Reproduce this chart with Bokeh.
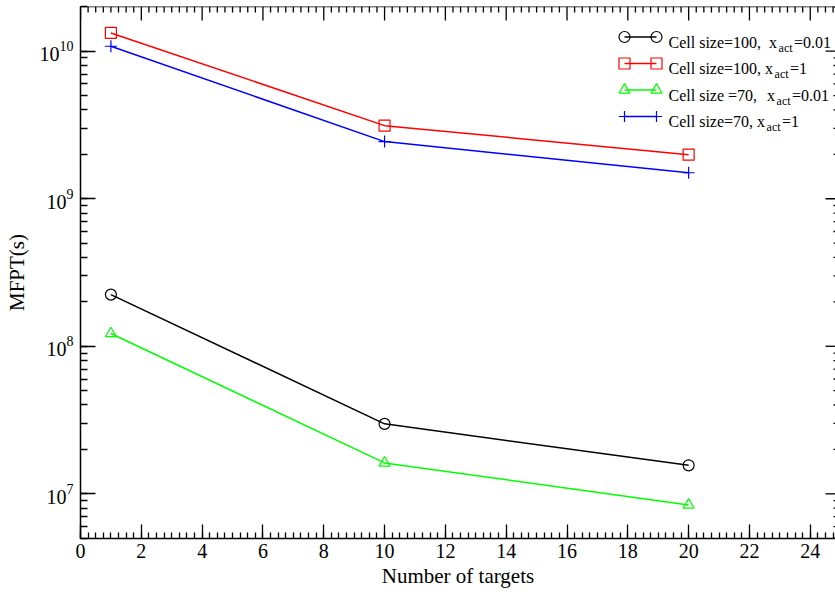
import numpy as np
from bokeh.plotting import figure
from bokeh.models import (Range1d, SingleIntervalTicker, LinearScale, ColumnDataSource)
from bokeh.core.properties import value
from bokeh.embed import file_html
from bokeh.resources import INLINE

# ---------------- data ----------------
targets = [1, 10, 20]
mfpt_cell100_x001 = [2.24e8, 2.98e7, 1.56e7]
mfpt_cell100_x1 = [1.33e10, 3.13e9, 1.99e9]
mfpt_cell70_x001 = [1.22e8, 1.62e7, 8.4e6]
mfpt_cell70_x1 = [1.08e10, 2.44e9, 1.50e9]

series_values = [mfpt_cell100_x001, mfpt_cell100_x1, mfpt_cell70_x001, mfpt_cell70_x1]
series_colors = ["black", "#ff0000", "#00ff00", "#0000ff"]
series_markers = ["circle", "square", "triangle", "cross"]
label_prefix = ["Cell size=100,", "Cell size=100,", "Cell size =70,", "Cell size=70,"]
label_gap_spaces = [2, 1, 2.5, 1]
label_sub = ["act", "act", "act", "act"]
label_suffix = ["=0.01", "=1", "=0.01", "=1"]

x_label = "Number of targets"
y_label = "MFPT(s)"

FONT = "Liberation Serif"
LEFT, TOP = 80, 6
FW, FH = 755, 532          # frame size in px
X_END = 24.83
Y_LO, Y_HI = 4.98e6, 2.009e10

p = figure(frame_width=FW, frame_height=FH,
           x_range=Range1d(0, X_END), y_range=Range1d(Y_LO, Y_HI),
           y_axis_type="log", output_backend="svg", toolbar_location=None,
           min_border_left=LEFT, min_border_right=0, min_border_top=TOP,
           min_border_bottom=54, x_axis_label=x_label, y_axis_label=y_label)
p.outline_line_color = None
p.grid.visible = False
p.background_fill_color = "white"
p.border_fill_color = "white"

p.xaxis.ticker = SingleIntervalTicker(interval=2, num_minor_ticks=8)


def style(ax, tick_in, minor_in):
    ax.axis_line_color = "black"
    ax.axis_line_width = 1.5
    ax.major_tick_in = tick_in
    ax.major_tick_out = 0
    ax.minor_tick_in = minor_in
    ax.minor_tick_out = 0
    ax.major_tick_line_width = 1.3
    ax.minor_tick_line_width = 1.3
    ax.major_tick_line_color = "black"
    ax.minor_tick_line_color = "black"
    ax.major_label_text_font = FONT
    ax.major_label_text_font_size = "20px"
    ax.major_label_text_color = "black"
    ax.axis_label_text_font = FONT
    ax.axis_label_text_font_style = "normal"
    ax.axis_label_text_font_size = "21px"
    ax.axis_label_text_color = "black"


for ax in p.xaxis:
    style(ax, 14, 6)
    ax.major_label_standoff = 5
    ax.axis_label_standoff = 3
for ax in p.yaxis:
    style(ax, 15, 7)
    ax.major_label_standoff = 7
    ax.axis_label_standoff = 8

# ---------------- series ----------------
for vals, col, mk in zip(series_values, series_colors, series_markers):
    p.line(targets, vals, line_color=col, line_width=1.5)
    p.scatter(targets, vals, marker=mk, size=12 if mk == "cross" else 11,
              fill_color=None, line_color=col, line_width=1.2)

# ---------------- frame-pixel helper ranges ----------------
p.extra_x_ranges = {"px": Range1d(0, FW)}
p.extra_y_ranges = {"px": Range1d(0, FH)}
p.extra_x_scales = {"px": LinearScale()}
p.extra_y_scales = {"px": LinearScale()}

# mirrored ticks: top edge (data x, pixel y) and right edge (pixel x, data y)
top_major = np.arange(0, X_END + 1e-9, 2.0)
top_minor = np.array([v for v in np.arange(0, X_END, 0.25) if abs(v / 2 - round(v / 2)) > 1e-6])
p.segment(x0=top_major, y0=[FH] * len(top_major), x1=top_major, y1=[FH - 14] * len(top_major),
          line_color="black", line_width=1.3, y_range_name="px")
p.segment(x0=top_minor, y0=[FH] * len(top_minor), x1=top_minor, y1=[FH - 6] * len(top_minor),
          line_color="black", line_width=1.3, y_range_name="px")
p.segment(x0=[0], y0=[FH], x1=[FW], y1=[FH], line_color="black", line_width=1.5,
          x_range_name="px", y_range_name="px")

r_major = [10.0 ** e for e in range(6, 11) if Y_LO <= 10.0 ** e <= Y_HI]
r_minor = [k * 10.0 ** e for e in range(6, 11) for k in range(2, 10) if Y_LO <= k * 10.0 ** e <= Y_HI]
p.segment(x0=[FW] * len(r_major), y0=r_major, x1=[FW - 10] * len(r_major), y1=r_major,
          line_color="black", line_width=1.3, x_range_name="px")
p.segment(x0=[FW] * len(r_minor), y0=r_minor, x1=[FW - 2] * len(r_minor), y1=r_minor,
          line_color="black", line_width=1.3, x_range_name="px")

# ---------------- legend (frame-pixel coordinates) ----------------
TIMES = {' ': 250, ',': 250, '.': 250, '=': 564, 'C': 667, 'e': 444, 'l': 278,
         's': 389, 'i': 278, 'z': 444, 'x': 500, 'a': 444, 'c': 444, 't': 278}
for d in "0123456789":
    TIMES[d] = 500


def tw(s, size):
    return sum(TIMES.get(c, 500) for c in s) / 1000.0 * size


MAIN, SUB = 16, 12
bottom_screen = TOP + FH
row_screen_y = [36.5, 63, 89.5, 116]
line_x0, line_x1, text_x = 624 - LEFT, 656 - LEFT, 668 - LEFT

seg = dict(x0=[], x1=[], y=[], c=[])
mk = dict(x=[], y=[], c=[], m=[])
main_t = dict(x=[], y=[], t=[])
sub_t = dict(x=[], y=[], t=[])
for i in range(4):
    yf = bottom_screen - row_screen_y[i]
    seg["x0"].append(line_x0); seg["x1"].append(line_x1); seg["y"].append(yf)
    seg["c"].append(series_colors[i])
    for xx in (line_x0, line_x1):
        mk["x"].append(xx); mk["y"].append(yf)
        mk["c"].append(series_colors[i]); mk["m"].append(series_markers[i])
    base = yf - 5
    x = text_x
    main_t["x"].append(x); main_t["y"].append(base); main_t["t"].append(label_prefix[i])
    x += tw(label_prefix[i], MAIN) + label_gap_spaces[i] * tw(" ", MAIN)
    main_t["x"].append(x); main_t["y"].append(base); main_t["t"].append("x")
    x += tw("x", MAIN) + 1.5
    sub_t["x"].append(x); sub_t["y"].append(base - 5.5); sub_t["t"].append(label_sub[i])
    x += tw(label_sub[i], SUB) + 1.5
    main_t["x"].append(x); main_t["y"].append(base); main_t["t"].append(label_suffix[i])

p.segment(x0="x0", y0="y", x1="x1", y1="y", line_color="c", line_width=1.5,
          source=ColumnDataSource(seg), x_range_name="px", y_range_name="px")
p.scatter(x="x", y="y", marker="m", line_color="c", fill_color=None, size=11,
          line_width=1.2, source=ColumnDataSource(mk), x_range_name="px", y_range_name="px")
p.text(x="x", y="y", text="t", text_font=value(FONT), text_font_size=value(f"{MAIN}px"),
       text_baseline="alphabetic", text_align="left", text_color="black",
       source=ColumnDataSource(main_t), x_range_name="px", y_range_name="px")
p.text(x="x", y="y", text="t", text_font=value(FONT), text_font_size=value(f"{SUB}px"),
       text_baseline="alphabetic", text_align="left", text_color="black",
       source=ColumnDataSource(sub_t), x_range_name="px", y_range_name="px")

open("out.html", "w").write(file_html(p, INLINE))
